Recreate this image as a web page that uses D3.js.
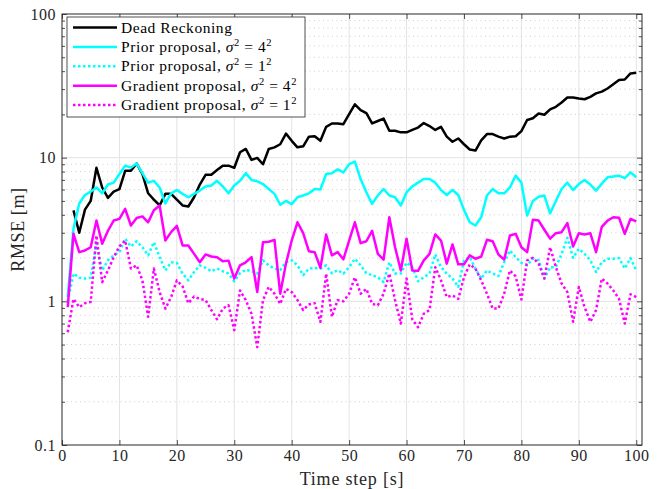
<!DOCTYPE html>
<html>
<head>
<meta charset="utf-8">
<script src="https://cdn.jsdelivr.net/npm/d3@7"></script>
<style>
  body { margin: 0; background: #fff; }
  svg { font-family: "Liberation Serif", "DejaVu Serif", serif; }
</style>
</head>
<body>
<svg width="664" height="489"></svg>
<script>
const steps = d3.range(1, 101);

const deadReckoning = [null, 4.3, 3.0, 4.35, 5.0, 8.5, 6.2, 5.25, 5.8, 6.05, 8.1, 8.1, 9.1, 7.7, 5.65, 5.1, 4.65, 5.6, 5.6, 5.1,
  4.65, 4.57, 5.3, 6.5, 7.6, 7.6, 8.2, 8.8, 8.8, 8.5, 10.9, 11.5, 9.65, 9.96, 9.0, 11.5, 11.8, 12.4, 14.7, 13.1,
  11.8, 12.0, 14.0, 14.1, 13.1, 16.4, 17.3, 17.3, 17.1, 20.1, 23.5, 21.4, 20.4, 17.3, 18.0, 18.7, 15.4, 15.4, 15.0, 15.0,
  15.6, 16.2, 17.4, 16.6, 15.6, 16.4, 14.0, 12.9, 13.6, 12.4, 11.4, 11.2, 13.2, 14.6, 14.6, 14.0, 13.6, 14.0, 14.1, 15.3,
  18.3, 18.8, 20.3, 19.9, 21.7, 22.6, 24.2, 26.2, 26.2, 25.8, 25.5, 26.5, 28.0, 28.8, 30.3, 32.4, 34.7, 35.0, 38.6, 39.0];

const prior4 = [1.07, 3.2, 4.8, 5.5, 5.8, 6.2, 5.65, 6.5, 6.7, 7.7, 8.8, 8.55, 9.1, 7.8, 6.7, 6.9, 6.2, 4.8, 5.65, 5.95,
  5.6, 5.3, 5.6, 5.9, 6.3, 6.4, 6.9, 6.3, 5.65, 6.4, 6.9, 7.8, 7.0, 6.85, 6.55, 6.05, 5.6, 4.7, 5.0, 4.75,
  5.3, 5.45, 5.65, 6.05, 6.0, 7.7, 7.8, 8.3, 7.9, 9.0, 9.4, 7.1, 5.75, 4.77, 5.45, 6.05, 5.45, 5.3, 4.65, 5.75,
  6.3, 6.7, 7.1, 7.1, 6.7, 5.95, 5.5, 5.95, 5.5, 4.33, 3.55, 3.37, 3.85, 5.45, 6.05, 5.65, 5.65, 6.2, 7.5, 6.7,
  3.95, 5.0, 5.35, 5.45, 4.1, 5.0, 6.05, 6.7, 5.95, 6.55, 7.0, 6.5, 5.9, 6.6, 7.3, 7.4, 7.5, 7.2, 7.9, 7.3];

const prior1 = [1.0, 1.56, 1.46, 1.44, 1.46, 2.52, 1.64, 1.93, 2.09, 2.2, 2.73, 2.41, 2.62, 2.38, 2.09, 2.58, 2.03, 1.64, 1.87, 1.85,
  1.56, 1.4, 1.6, 1.78, 1.71, 1.62, 1.69, 1.62, 1.56, 1.38, 1.57, 1.66, 1.62, 1.56, 1.93, 1.78, 1.69, 1.65, 1.87, 1.93,
  1.78, 1.52, 1.69, 1.71, 1.69, 1.78, 1.57, 1.65, 1.56, 1.73, 1.98, 1.78, 1.57, 1.52, 1.47, 1.36, 1.87, 1.56, 1.56, 1.86,
  1.73, 1.38, 1.47, 1.56, 2.12, 1.73, 1.56, 1.44, 1.26, 1.93, 2.03, 1.69, 1.44, 1.64, 1.56, 1.5, 1.87, 2.26, 2.03, 1.85,
  1.78, 1.98, 1.93, 1.44, 1.73, 1.73, 2.14, 2.77, 2.01, 2.32, 2.14, 1.93, 1.6, 1.87, 1.98, 1.98, 2.0, 1.69, 2.0, 1.64];

const gradient4 = [0.91, 2.95, 2.2, 2.26, 2.38, 3.65, 2.52, 3.1, 3.65, 3.75, 4.4, 3.37, 3.8, 3.9, 3.55, 4.3, 4.65, 2.65, 3.03, 3.35,
  2.45, 2.45, 2.14, 1.87, 2.12, 2.05, 2.03, 1.9, 1.92, 1.44, 1.78, 1.87, 2.03, 1.16, 2.58, 2.6, 2.68, 1.13, 1.83, 2.65,
  3.55, 2.98, 2.23, 2.2, 1.71, 2.92, 2.09, 2.2, 1.96, 2.65, 3.55, 2.54, 2.62, 3.1, 2.14, 1.95, 3.85, 2.38, 1.64, 2.73,
  1.64, 1.63, 1.93, 2.14, 2.92, 2.65, 1.83, 2.49, 1.81, 1.81, 2.09, 1.98, 2.05, 2.68, 2.62, 2.12, 1.95, 2.87, 2.95, 2.38,
  2.2, 3.7, 3.65, 3.15, 2.73, 2.98, 3.03, 3.5, 2.41, 2.98, 2.92, 2.98, 2.2, 3.3, 3.65, 3.85, 3.82, 2.95, 3.75, 3.6];

const gradient1 = [0.61, 1.04, 0.91, 0.97, 0.99, 2.87, 1.36, 1.64, 2.03, 2.41, 2.65, 1.69, 1.78, 1.4, 0.78, 1.69, 1.16, 0.89, 1.07, 1.4,
  1.27, 0.97, 1.08, 1.04, 1.02, 0.87, 0.75, 0.89, 0.94, 0.63, 1.19, 1.02, 0.82, 0.48, 1.02, 1.26, 1.13, 0.96, 1.22, 1.16,
  1.02, 0.87, 0.95, 0.97, 0.72, 1.56, 0.78, 1.02, 1.0, 1.13, 1.47, 1.13, 1.22, 0.96, 0.94, 1.13, 1.56, 1.02, 0.7, 1.44,
  0.75, 0.66, 0.82, 0.87, 1.73, 1.4, 1.07, 1.1, 1.04, 1.47, 1.81, 1.69, 1.4, 1.13, 0.89, 0.89, 1.13, 1.64, 1.49, 1.03,
  1.93, 2.01, 1.83, 1.44, 2.38, 1.73, 1.33, 1.16, 0.72, 1.26, 0.91, 0.72, 0.87, 1.44, 1.33, 1.19, 1.04, 0.7, 1.12, 1.07];

const xTicks = [0, 10, 20, 30, 40, 50, 60, 70, 80, 90, 100];
const yTicks = [0.1, 1, 10, 100];
const yTickLabels = ['0.1', '1', '10', '100'];
const yMinorTicks = [0.2, 0.3, 0.4, 0.5, 0.6, 0.7, 0.8, 0.9, 2, 3, 4, 5, 6, 7, 8, 9, 20, 30, 40, 50, 60, 70, 80, 90];

const series = [
  { name: 'Dead Reckoning', values: deadReckoning, color: '#000000', dash: null, sig: null },
  { name: 'Prior proposal, ', values: prior4, color: '#00ffff', dash: null, sig: '4' },
  { name: 'Prior proposal, ', values: prior1, color: '#00ffff', dash: '2.5,2.5', sig: '1' },
  { name: 'Gradient proposal, ', values: gradient4, color: '#ff00ff', dash: null, sig: '4' },
  { name: 'Gradient proposal, ', values: gradient1, color: '#ff00ff', dash: '2.5,2.5', sig: '1' }
];

const pLeft = 62, pRight = 642, pTop = 14, pBottom = 445;

const svg = d3.select('svg');

const x = d3.scaleLinear().domain([0, 101]).range([pLeft, pRight]);
const y = d3.scaleLog().domain([0.1, 100]).range([pBottom, pTop]);

// grid
svg.append('g')
  .selectAll('line')
  .data(xTicks.filter(d => d > 0))
  .enter().append('line')
  .attr('x1', d => x(d)).attr('x2', d => x(d))
  .attr('y1', pTop).attr('y2', pBottom)
  .attr('stroke', '#e3e3e3').attr('stroke-width', 1);

svg.append('g')
  .selectAll('line')
  .data(yMinorTicks)
  .enter().append('line')
  .attr('x1', pLeft).attr('x2', pRight)
  .attr('y1', d => y(d)).attr('y2', d => y(d))
  .attr('stroke', '#c4c4c4').attr('stroke-width', 0.8)
  .attr('stroke-dasharray', '1,3.5');

svg.append('g')
  .selectAll('line')
  .data([1, 10])
  .enter().append('line')
  .attr('x1', pLeft).attr('x2', pRight)
  .attr('y1', d => y(d)).attr('y2', d => y(d))
  .attr('stroke', '#e3e3e3').attr('stroke-width', 1);

// lines
const line = d3.line()
  .defined(d => d[1] != null)
  .x(d => x(d[0]))
  .y(d => y(d[1]));

series.forEach(s => {
  svg.append('path')
    .datum(steps.map((t, i) => [t, s.values[i]]))
    .attr('fill', 'none')
    .attr('stroke', s.color)
    .attr('stroke-width', 2.5)
    .attr('stroke-linejoin', 'round')
    .attr('stroke-dasharray', s.dash)
    .attr('d', line);
});

// axes
const fontFam = '"Liberation Serif", "DejaVu Serif", serif';

svg.append('g')
  .attr('transform', `translate(0, ${pBottom})`)
  .call(d3.axisBottom(x).tickValues(xTicks).tickSize(-5).tickPadding(5).tickFormat(d3.format('d')));
svg.append('g')
  .attr('transform', `translate(0, ${pTop})`)
  .call(d3.axisTop(x).tickValues(xTicks).tickSize(-5).tickFormat(''));

svg.append('g')
  .attr('transform', `translate(${pLeft}, 0)`)
  .call(d3.axisLeft(y).tickValues(yTicks).tickSize(-5).tickPadding(6)
    .tickFormat((d, i) => yTickLabels[i]));
svg.append('g')
  .attr('transform', `translate(${pLeft}, 0)`)
  .call(d3.axisLeft(y).tickValues(yMinorTicks).tickSize(-3).tickFormat(''));
svg.append('g')
  .attr('transform', `translate(${pRight}, 0)`)
  .call(d3.axisRight(y).tickValues(yTicks).tickSize(-5).tickFormat(''));
svg.append('g')
  .attr('transform', `translate(${pRight}, 0)`)
  .call(d3.axisRight(y).tickValues(yMinorTicks).tickSize(-3).tickFormat(''));

svg.selectAll('.domain').remove();
svg.selectAll('.tick line').attr('stroke', '#262626').attr('stroke-width', 0.8);
svg.selectAll('.tick text')
  .attr('font-family', fontFam)
  .attr('font-size', 16)
  .attr('letter-spacing', 0.5)
  .attr('fill', '#262626');

svg.append('rect')
  .attr('x', pLeft).attr('y', pTop)
  .attr('width', pRight - pLeft).attr('height', pBottom - pTop)
  .attr('fill', 'none')
  .attr('stroke', '#262626')
  .attr('stroke-width', 1);

// axis labels
svg.append('text')
  .attr('x', (pLeft + pRight) / 2)
  .attr('y', 485)
  .attr('text-anchor', 'middle')
  .attr('font-size', 18)
  .attr('letter-spacing', 0.8)
  .attr('fill', '#262626')
  .text('Time step [s]');

svg.append('text')
  .attr('transform', `translate(24, ${(pTop + pBottom) / 2}) rotate(-90)`)
  .attr('text-anchor', 'middle')
  .attr('font-size', 18)
  .attr('letter-spacing', 0.6)
  .attr('fill', '#262626')
  .text('RMSE [m]');

// legend
const legend = svg.append('g');
legend.append('rect')
  .attr('x', 67).attr('y', 17)
  .attr('width', 238).attr('height', 100)
  .attr('fill', '#fff')
  .attr('stroke', '#262626')
  .attr('stroke-width', 0.8);

series.forEach((s, i) => {
  const yy = 27.5 + i * 19.4;
  legend.append('line')
    .attr('x1', 73).attr('x2', 117)
    .attr('y1', yy).attr('y2', yy)
    .attr('stroke', s.color)
    .attr('stroke-width', 2.5)
    .attr('stroke-dasharray', s.dash);
  const t = legend.append('text')
    .attr('x', 121)
    .attr('y', yy + 5)
    .attr('font-size', 15.5)
    .attr('letter-spacing', 0.55)
    .attr('fill', '#000');
  t.append('tspan').text(s.name);
  if (s.sig) {
    t.append('tspan').attr('font-style', 'italic').text('σ');
    t.append('tspan').attr('font-size', 10.5).attr('dy', -6).text('2');
    t.append('tspan').attr('dy', 6).text(' = ' + s.sig);
    t.append('tspan').attr('font-size', 10.5).attr('dy', -6).text('2');
  }
});
</script>
</body>
</html>
